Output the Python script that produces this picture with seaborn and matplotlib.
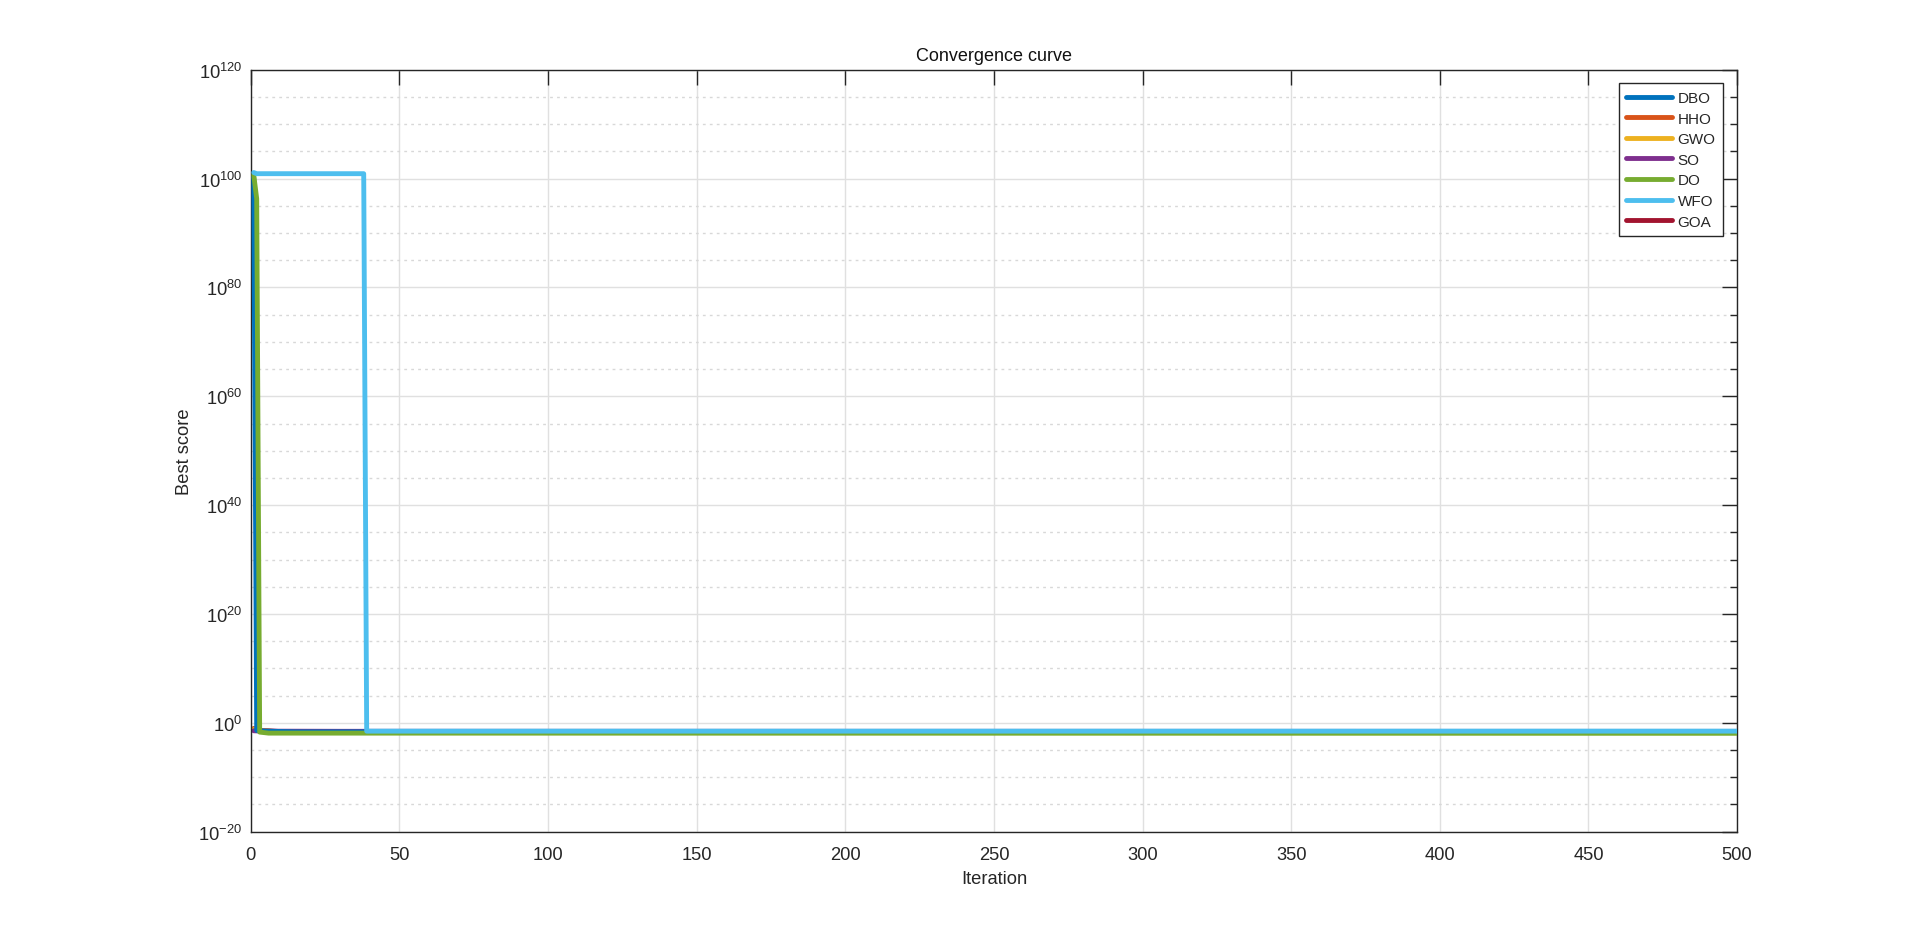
#Import the libraries : numpy, Matplotlib and Seaborn
import numpy as np
import matplotlib
matplotlib.use("Agg")
import matplotlib.pyplot as plt
import matplotlib.ticker as mticker
import seaborn as sns

#Best score of each algorithm at the iterations where the curve changes
dbo_iter = [1, 2, 5, 15, 500]
dbo_best = [1.5e100, 0.04, 0.03, 0.022, 0.022]
hho_iter = [1, 3, 8, 500]
hho_best = [0.09, 0.04, 0.025, 0.022]
gwo_iter = [1, 3, 10, 500]
gwo_best = [0.06, 0.035, 0.024, 0.021]
so_iter = [1, 4, 30, 500]
so_best = [0.035, 0.03, 0.028, 0.027]
do_iter = [1, 2, 3, 6, 500]
do_best = [5e100, 2e96, 0.02, 0.013, 0.012]
wfo_iter = [1, 2, 38, 39, 500]
wfo_best = [1.3e101, 8e100, 8e100, 0.03, 0.03]
goa_iter = [1, 3, 12, 500]
goa_best = [0.08, 0.04, 0.022, 0.02]

names = ["DBO", "HHO", "GWO", "SO", "DO", "WFO", "GOA"]
colors = ["#0072BD", "#D95319", "#EDB120", "#7E2F8E", "#77AC30", "#4DBEEE", "#A2142F"]
layer = [3, 2, 2, 2, 4, 5, 1]

sns.set_style("white")
plt.rcParams['font.family'] = ['Liberation Sans', 'DejaVu Sans']
plt.rcParams['mathtext.fontset'] = 'custom'
plt.rcParams['mathtext.rm'] = 'Liberation Sans'
plt.rcParams['mathtext.it'] = 'Liberation Sans'
plt.rcParams['axes.unicode_minus'] = False

fig = plt.figure(figsize=(19.2, 9.37), dpi=100)
ax = fig.add_axes([0.1306, 0.1113, 0.7741, 0.8132])

series = [(dbo_iter, dbo_best), (hho_iter, hho_best), (gwo_iter, gwo_best),
          (so_iter, so_best), (do_iter, do_best), (wfo_iter, wfo_best),
          (goa_iter, goa_best)]
for (it, best), name, col, z in zip(series, names, colors, layer):
	sns.lineplot(x=it, y=best, color=col, label=name, lw=3.5, zorder=z, ax=ax)

ax.set_yscale('log')
ax.set_xlim(0, 500)
ax.set_ylim(1e-20, 1e120)
ax.set_xticks(np.arange(0, 501, 50))
ax.yaxis.set_major_locator(mticker.FixedLocator(10.0 ** np.arange(-20, 121, 20)))
ax.yaxis.set_minor_locator(mticker.FixedLocator(
	[10.0 ** e for e in range(-15, 120, 5) if e % 20 != 0]))
ax.yaxis.set_major_formatter(mticker.LogFormatterSciNotation())
ax.yaxis.set_minor_formatter(mticker.NullFormatter())

#MATLAB look : box, inward ticks, light grid
ax.grid(True, which='major', color='#e0e0e0', lw=1.0)
ax.grid(True, which='minor', axis='y', color='#d8d8d8', lw=1.0, ls=(0, (2, 3)))
ax.set_axisbelow(True)
for s in ax.spines.values():
	s.set_color('#262626')
	s.set_linewidth(1.0)
ax.tick_params(which='both', direction='in', top=True, right=True,
	colors='#262626', labelsize=13.2, width=1.0)
ax.tick_params(which='major', length=10.5)
ax.tick_params(axis='x', which='major', pad=10.5)
ax.tick_params(axis='y', which='major', pad=6)
ax.tick_params(which='minor', length=5.2)

ax.set_title("Convergence curve", fontsize=13, color='#111111', pad=7)
ax.set_xlabel("Iteration", fontsize=13.2, color='#262626', labelpad=5)
ax.set_ylabel("Best score", fontsize=13.2, color='#262626', labelpad=4)

leg = ax.legend(loc='upper right', fontsize=11, handlelength=3.0, labelspacing=0.43,
	borderaxespad=0.9, fancybox=False, framealpha=1, edgecolor='#262626',
	borderpad=0.5, handletextpad=0.35)
leg.get_frame().set_linewidth(1.0)

fig.savefig("out.png", dpi=100)
